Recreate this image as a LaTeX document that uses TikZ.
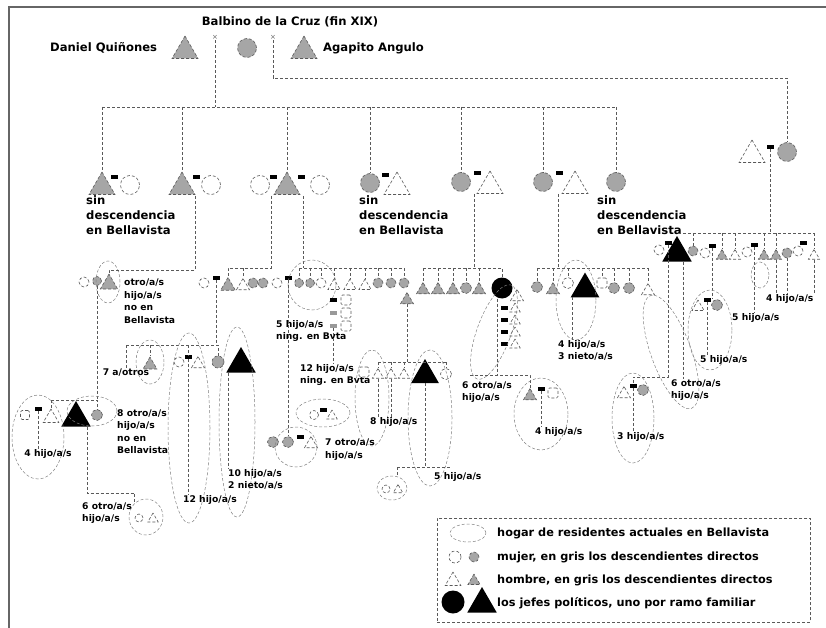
\documentclass[tikz,border=0pt]{standalone}
\usepackage{fontspec}
\setmainfont{DejaVu Sans}
\usetikzlibrary{shapes.geometric, positioning}

\begin{document}
\begin{tikzpicture}[x=1pt, y=-1pt]

\tikzset{kin/.style = {draw=black!65, densely dashed, line width=0.6pt}}
\tikzset{fem/.style = {shape=circle, kin, fill=white, minimum size=#1, inner sep=0pt}, fem/.default=19pt}
\tikzset{femg/.style = {fem=#1, fill=black!35}, femg/.default=19pt}
\tikzset{masc/.style = {shape=regular polygon, regular polygon sides=3, kin, fill=white, minimum size=#1, inner sep=0pt}, masc/.default=30pt}
\tikzset{mascg/.style = {masc=#1, fill=black!35}, mascg/.default=30pt}
\tikzset{sq/.style = {shape=rectangle, kin, fill=white, rounded corners=1.5pt, minimum size=10pt, inner sep=0pt}}
\tikzset{jefa/.style = {shape=circle, fill=black, minimum size=#1, inner sep=0pt}, jefa/.default=21pt}
\tikzset{jefe/.style = {shape=regular polygon, regular polygon sides=3, fill=black, minimum size=#1, inner sep=0pt}, jefe/.default=34pt}
\tikzset{wed/.style = {fill=black, minimum width=7pt, minimum height=3.5pt, inner sep=0pt}}
\tikzset{wedg/.style = {wed, fill=black!40}}
\tikzset{nexo/.style = {text=black!60, font=\fontsize{7}{7}\selectfont, inner sep=1pt}}
\tikzset{hogar/.style = {draw=black!50, densely dashed, line width=0.5pt}}
\tikzset{nom/.style = {font=\bfseries\fontsize{11.6}{15}\selectfont, inner sep=0pt}}
\tikzset{lbl/.style = {anchor=north west, align=left, inner sep=0pt, font=\bfseries\fontsize{9.2}{12.5}\selectfont}}
\tikzset{lgd/.style = {anchor=west, inner sep=0pt, font=\bfseries\fontsize{11.3}{13}\selectfont}}

\useasboundingbox (0,0) rectangle (826,628);
% marco
\draw[black!60, line width=2pt] (9,628) -- (9,7) -- (826,7);

% tronco
\node[nom] (balbino) at (290,22) {Balbino de la Cruz (fin XIX)};
\node[nom, anchor=west] (daniel) at (50,48) {Daniel Quiñones};
\node[mascg] (t0) at (185,51) {};
\node[femg] (f0) at (247,48) {};
\node[mascg] (t1) at (304,51) {};
\node[nom, anchor=west] (agapito) at (323,48) {Agapito Angulo};
\node[nexo] (u1) at (215,37) {×};
\node[nexo] (u2) at (273,37) {×};

% segunda generacion
\node[mascg] (b1m) at (102,187) {};
\node[wed] (wb1) at (114,177) {};
\node[fem] (b1f) at (130,185) {};
\node[nom, anchor=north west, align=left] (sin1) at (86,195) {sin\\descendencia\\en Bellavista};
\node[mascg] (b2m) at (182,187) {};
\node[wed] (wb2) at (196,177) {};
\node[fem] (b2f) at (211,185) {};
\node[fem] (b3a) at (260,185) {};
\node[wed] (wb3a) at (273,177) {};
\node[mascg] (b3m) at (287,187) {};
\node[wed] (wb3b) at (301,177) {};
\node[fem] (b3b) at (320,185) {};
\node[femg] (b4f) at (370,183) {};
\node[wed] (wb4) at (385,175) {};
\node[masc] (b4m) at (397,187) {};
\node[nom, anchor=north west, align=left] (sin4) at (359,195) {sin\\descendencia\\en Bellavista};
\node[femg] (b5f) at (461,182) {};
\node[wed] (wb5) at (477,173) {};
\node[masc] (b5m) at (490,186) {};
\node[femg] (b6f) at (543,182) {};
\node[wed] (wb6) at (559,173) {};
\node[masc] (b6m) at (575,186) {};
\node[femg] (b7f) at (616,182) {};
\node[nom, anchor=north west, align=left] (sin7) at (597,195) {sin\\descendencia\\en Bellavista};
\node[masc] (r1m) at (752,155) {};
\node[wed] (wr) at (770,147) {};
\node[femg] (r1f) at (787,152) {};

\coordinate (s1) at (102,107);
\coordinate (s7) at (616,107);
\coordinate (k2) at (787,78);
\draw[kin] (u1) -- (u1 |- s1);
\draw[kin] (s1) -- (s7);
\foreach \n in {b1m,b2m,b3m,b4f,b5f,b6f,b7f} \draw[kin] (\n |- s1) -- (\n);
\draw[kin] (u2) |- (k2) -- (r1f);

% rama 2
\coordinate (d2) at (195,196);
\coordinate (j2) at (109,270);
\node[fem=10pt] (g2f) at (84,282) {};
\node[femg=9pt] (g2g) at (97,281) {};
\node[mascg=20pt] (g2m) at (109,284) {};
\draw[hogar] (108,282) ellipse [x radius=12pt, y radius=21pt];
\node[lbl] (l2) at (124,279) {otro/a/s\\hijo/a/s\\no en\\Bellavista};
\draw[kin] (d2) |- (j2) -- (g2m);

\coordinate (j3a) at (51,400);
\coordinate (j3b) at (97,400);
\node[sq, minimum size=9pt] (g3w) at (25,415) {};
\node[wed] (w3) at (38,409) {};
\node[masc=18pt] (g3a) at (51,418) {};
\node[jefe] (g3j) at (76,418) {};
\node[femg=11pt] (g3f) at (97,415) {};
\draw[kin] (g2g) -- (j3b);
\draw[kin] (j3a) -- (j3b) -- (g3f);
\draw[kin] (j3a) -- (g3a);
\draw[hogar] (38,437) ellipse [x radius=26pt, y radius=42pt];
\draw[hogar] (92,411) ellipse [x radius=25pt, y radius=15pt];
\node[lbl, anchor=north] (l3a) at (48,449) {4 hijo/a/s};
\draw[kin] (w3) -- (w3 |- l3a.north);
\node[lbl] (l3b) at (117,409) {8 otro/a/s\\hijo/a/s\\no en\\Bellavista};
\coordinate (j6o) at (87,427);
\node[hogar, ellipse, minimum width=34pt, minimum height=36pt] (e3) at (146,517) {};
\node[fem=8pt] (e3f) at (139,518) {};
\node[masc=12pt] (e3m) at (153,519) {};
\node[lbl] (l3c) at (82,502) {6 otro/a/s\\hijo/a/s};
\draw[kin] (j6o) |- ([yshift=10pt]e3.130) -- (e3.130);

% rama 3 izquierda
\coordinate (d3a) at (271,196);
\coordinate (j3l) at (228,268);
\node[fem=10pt] (c3a) at (204,283) {};
\node[wed] (w3c) at (216,278) {};
\node[mascg=17pt] (c3b) at (228,286) {};
\node[masc=15pt] (c3c) at (243,286) {};
\node[femg=10pt] (c3d) at (253,283) {};
\node[femg=10pt] (c3e) at (263,283) {};
\draw[kin] (d3a) |- (j3l) -- (c3b);
\draw[kin] (c3c |- j3l) -- (c3c);

\coordinate (s4a) at (126,345);
\coordinate (s4b) at (218,345);
\node[lbl, anchor=north] (l4a) at (126,369) {7 a/otros};
\node[mascg=16pt] (c4a) at (150,365) {};
\node[fem=10pt] (c4b) at (179,362) {};
\node[wed] (w4b) at (188,357) {};
\node[masc=15pt] (c4c) at (198,364) {};
\node[femg=12pt] (c4d) at (218,362) {};
\node[jefe] (j4) at (241,364) {};
\draw[kin] (w3c) -- (w3c |- s4a);
\draw[kin] (s4a) -- (s4b) -- (c4d);
\draw[kin] (s4a) -- (l4a);
\draw[kin] (c4a |- s4a) -- (c4a);
\draw[kin] (w4b |- s4a) -- (w4b);
\draw[hogar] (150,362) ellipse [x radius=14pt, y radius=22pt];
\draw[hogar] (189,428) ellipse [x radius=21pt, y radius=95pt];
\draw[hogar] (237,422) ellipse [x radius=18pt, y radius=95pt];
\node[lbl, anchor=north] (l4c) at (210,495) {12 hijo/a/s};
\node[lbl] (l4d) at (228,469) {10 hijo/a/s\\2 nieto/a/s};
\draw[kin] (w4b) -- (w4b |- l4c.north);
\draw[kin] ([xshift=-13pt]j4.south) -- (l4d.north west);

% rama 3 derecha
\coordinate (d3b) at (303,196);
\coordinate (s5a) at (299,268);
\coordinate (s5b) at (405,268);
\node[fem=10pt] (c5a) at (277,283) {};
\node[wed] (w5a) at (288,278) {};
\node[femg=9pt] (c5b) at (299,283) {};
\node[femg=9pt] (c5c) at (310,283) {};
\node[fem=10pt] (c5d) at (321,283) {};
\node[masc=14pt] (c5e) at (334,286) {};
\node[masc=14pt] (c5f) at (350,286) {};
\node[masc=14pt] (c5g) at (365,286) {};
\node[femg=10pt] (c5h) at (378,283) {};
\node[femg=10pt] (c5i) at (391,283) {};
\node[femg=10pt] (c5j) at (404,283) {};
\node[mascg=15pt] (c5k) at (407,300) {};
\draw[kin] (d3b) -- (d3b |- s5a);
\draw[kin] (s5a) -- (s5b);
\foreach \n in {c5b,c5c,c5d,c5e,c5f,c5g,c5h,c5i,c5j} \draw[kin] (\n |- s5a) -- (\n);
\draw[hogar] (312,285) ellipse [x radius=24pt, y radius=25pt];
\node[wed] (w5b) at (333,300) {};
\node[sq] (q1) at (346,300) {};
\node[wedg] (w5d) at (333,313) {};
\node[sq] (q2) at (346,313) {};
\node[wedg] (w5c) at (333,326) {};
\node[sq] (q3) at (346,326) {};
\node[lbl] (l5a) at (276,320) {5 hijo/a/s\\ning. en Bvta};
\node[lbl] (l5b) at (300,364) {12 hijo/a/s\\ning. en Bvta};
\draw[kin] (w5c) -- (w5c |- l5b.north);

\node[femg=11pt] (g5a) at (273,442) {};
\node[femg=11pt] (g5b) at (288,442) {};
\node[wed] (w5e) at (300,437) {};
\node[masc=15pt] (g5c) at (311,444) {};
\draw[kin] (w5a) -- (g5b);
\draw[hogar] (296,447) ellipse [x radius=21pt, y radius=20pt];
\node[hogar, ellipse, minimum width=54pt, minimum height=28pt] (e5) at (323,413) {};
\node[fem=9pt] (e5f) at (314,415) {};
\node[wed] (e5w) at (323,410) {};
\node[masc=12pt] (e5m) at (332,416) {};
\node[lbl] (l5c) at (325,439) {7 otro/a/s\\hijo/a/s};

\coordinate (s6a) at (378,362);
\coordinate (s6b) at (446,362);
\node[sq] (c6a) at (364,372) {};
\node[masc=13pt] (c6b) at (378,375) {};
\node[masc=13pt] (c6c) at (391,375) {};
\node[masc=13pt] (c6d) at (404,375) {};
\node[jefe=32pt] (j6) at (425,375) {};
\node[fem=11pt] (c6e) at (446,374) {};
\draw[kin] (c5k) -- (c5k |- s6a);
\draw[kin] (s6a) -- (s6b);
\foreach \n in {c6b,c6c,c6d,c6e} \draw[kin] (\n |- s6a) -- (\n);
\draw[hogar] (372,398) ellipse [x radius=17pt, y radius=48pt];
\draw[hogar] (430,418) ellipse [x radius=22pt, y radius=68pt];
\node[lbl] (l6a) at (370,417) {8 hijo/a/s};
\draw[kin] (c6b) -- (c6b |- l6a.north);
\draw[kin] (c6c) -- (c6c |- l6a.north);
\coordinate (s6c) at (397,467);
\coordinate (s6d) at (450,467);
\node[hogar, ellipse, minimum width=30pt, minimum height=24pt] (e6) at (392,488) {};
\node[fem=8pt] (e6f) at (386,489) {};
\node[masc=11pt] (e6m) at (398,490) {};
\node[lbl] (l6b) at (434,472) {5 hijo/a/s};
\draw[kin] (j6.south) -- (j6.south |- s6c);
\draw[kin] (s6c) -- (s6d);
\draw[kin] (s6c) -- (s6c |- e6.north);

% rama 5
\coordinate (d5) at (474,194);
\coordinate (s7a) at (423,268);
\coordinate (s7b) at (502,268);
\node[mascg=15pt] (c7a) at (423,290) {};
\node[mascg=15pt] (c7b) at (438,290) {};
\node[mascg=15pt] (c7c) at (453,290) {};
\node[femg=11pt] (c7d) at (466,288) {};
\node[mascg=15pt] (c7e) at (479,290) {};
\node[jefa] (j7) at (502,288) {};
\node[masc=15pt] (c7f) at (517,297) {};
\draw[kin] (d5) -- (d5 |- s7a);
\draw[kin] (s7a) -- (s7b) -- (j7);
\foreach \n in {c7a,c7b,c7c,c7d,c7e} \draw[kin] (\n |- s7a) -- (\n);
\foreach \y in {308,320,332,344} {
  \node[wed] (cw\y) at (504,\y) {};
  \node[masc=12pt] (cm\y) at (515,\y+1) {};
}
\coordinate (s8a) at (470,375);
\coordinate (s8b) at (530,375);
\node[mascg=15pt] (c8a) at (530,396) {};
\node[wed] (w8) at (541,389) {};
\node[sq] (c8b) at (553,393) {};
\draw[kin] ([xshift=-5pt]j7.south) -- ([xshift=-5pt]j7.south |- s8a);
\draw[kin] (s8a) -- (s8b) -- (c8a);
\draw[hogar, rotate around={-20:(494,332)}] (494,332) ellipse [x radius=17pt, y radius=50pt];
\node[lbl] (l7) at (462,381) {6 otro/a/s\\hijo/a/s};
\draw[hogar] (541,414) ellipse [x radius=27pt, y radius=36pt];
\node[lbl] (l8) at (535,427) {4 hijo/a/s};
\draw[kin] (w8) -- (w8 |- l8.north west);

% rama 6
\coordinate (d6) at (558,194);
\coordinate (s9a) at (537,268);
\coordinate (s9b) at (648,268);
\node[femg=11pt] (c9a) at (537,287) {};
\node[mascg=15pt] (c9b) at (553,290) {};
\node[fem=11pt] (c9c) at (568,283) {};
\node[jefe=33pt] (j9) at (585,289) {};
\node[sq] (c9d) at (602,283) {};
\node[femg=11pt] (c9e) at (614,288) {};
\node[femg=11pt] (c9f) at (629,288) {};
\node[masc=15pt] (c9g) at (648,291) {};
\draw[kin] (d6) -- (d6 |- s9a);
\draw[kin] (s9a) -- (s9b);
\foreach \n in {c9a,c9b,c9c,c9d,c9e,c9f,c9g} \draw[kin] (\n |- s9a) -- (\n);
\draw[hogar] (576,300) ellipse [x radius=20pt, y radius=40pt];
\node[lbl] (l9) at (558,340) {4 hijo/a/s\\3 nieto/a/s};
\draw[kin] ([xshift=-13pt]j9.south) -- ([xshift=-13pt]j9.south |- l9.north);

% rama Agapito
\coordinate (sRa) at (678,233);
\coordinate (sRb) at (814,233);
\node[fem=10pt] (cRa) at (659,250) {};
\node[wed] (wRa) at (668,243) {};
\node[jefe] (jr) at (677,253) {};
\node[femg=10pt] (cRb) at (693,251) {};
\node[fem=10pt] (cRc) at (705,253) {};
\node[wed] (wRc) at (712,246) {};
\node[mascg=13pt] (cRd) at (722,256) {};
\node[masc=13pt] (cRe) at (735,256) {};
\node[fem=10pt] (cRf) at (747,252) {};
\node[wed] (wRf) at (754,245) {};
\node[mascg=13pt] (cRg) at (764,256) {};
\node[mascg=13pt] (cRh) at (776,256) {};
\node[femg=10pt] (cRi) at (787,253) {};
\node[fem=10pt] (cRj) at (798,251) {};
\node[wed] (wRj) at (803,243) {};
\node[masc=13pt] (cRk) at (814,256) {};
\draw[kin] (wr) -- (wr |- sRa);
\draw[kin] (sRa) -- (sRb);
\foreach \n in {cRb,cRd,cRe,cRg,cRh,cRk} \draw[kin] (\n |- sRa) -- (\n);

\coordinate (jS) at (633,377);
\node[masc=15pt] (cSa) at (624,394) {};
\node[wed] (wS) at (633,386) {};
\node[femg=11pt] (cSb) at (643,390) {};
\draw[kin] (wRa) |- (jS) -- (wS);
\draw[hogar] (633,418) ellipse [x radius=21pt, y radius=45pt];
\node[lbl] (lS) at (617,432) {3 hijo/a/s};
\draw[kin] (wS) -- (wS |- lS.north west);

\node[lbl] (lR1) at (671,379) {6 otro/a/s\\hijo/a/s};
\draw[kin] ([xshift=6pt]jr.south) -- ([xshift=6pt]jr.south |- lR1.north);
\draw[hogar, rotate around={20:(671,352)}] (671,352) ellipse [x radius=20pt, y radius=60pt];

\node[masc=14pt] (cTa) at (698,307) {};
\node[wed] (wT) at (707,300) {};
\node[femg=11pt] (cTb) at (717,305) {};
\draw[kin] (wRc) -- (wRc |- cTb.north);
\draw[hogar] (710,330) ellipse [x radius=22pt, y radius=40pt];
\node[lbl] (lT) at (700,355) {5 hijo/a/s};
\draw[kin] (wT) -- (wT |- lT.north);

\node[lbl] (lU) at (732,313) {5 hijo/a/s};
\draw[kin] (wRf) -- (wRf |- lU.north);
\draw[hogar] (760,275) ellipse [x radius=9pt, y radius=13pt];
\node[lbl] (lV) at (766,294) {4 hijo/a/s};
\foreach \n in {cRh,cRi,cRk} \draw[kin] (\n) -- (\n |- lV.north);

% leyenda
\node[kin, minimum width=373pt, minimum height=104pt, anchor=north west, inner sep=0pt] (ley) at (437,518) {};
\draw[hogar] (468,533) ellipse [x radius=18pt, y radius=9pt];
\node[fem=12pt] (lf1) at (455,557) {};
\node[femg=10pt] (lf2) at (474,557) {};
\node[masc=18pt] (lm1) at (453,581) {};
\node[mascg=14pt] (lm2) at (474,581) {};
\node[jefa=23pt] (lj1) at (453,602) {};
\node[jefe=34pt] (lj2) at (482,604) {};
\node[lgd] (lt1) at (497,533) {hogar de residentes actuales en Bellavista};
\node[lgd] (lt2) at (497,557) {mujer, en gris los descendientes directos};
\node[lgd] (lt3) at (497,580) {hombre, en gris los descendientes directos};
\node[lgd] (lt4) at (497,603) {los jefes políticos, uno por ramo familiar};

\end{tikzpicture}
\end{document}
